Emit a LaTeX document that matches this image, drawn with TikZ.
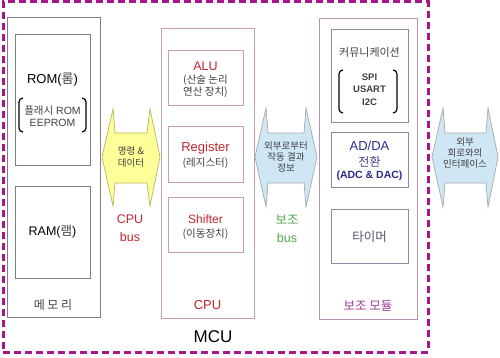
\documentclass[tikz,border=0pt]{standalone}
\usepackage{fontspec}
\setmainfont{Liberation Sans}
\newfontfamily\kr{Noto Sans CJK KR}
\definecolor{mcuc}{HTML}{A5158C}
\definecolor{grayb}{HTML}{808080}
\definecolor{cpub}{HTML}{C8A2A2}
\definecolor{subb}{HTML}{B494B4}
\definecolor{comb}{HTML}{8C8CA6}
\definecolor{redt}{HTML}{C0262E}
\definecolor{txtg}{HTML}{404040}
\definecolor{blt}{HTML}{2B2B8F}
\definecolor{grt}{HTML}{4FA64F}
\definecolor{purt}{HTML}{9B3C9B}
\definecolor{yfill}{HTML}{FFFF99}
\definecolor{ydraw}{HTML}{B5B565}
\definecolor{bfill}{HTML}{CFE7F5}
\definecolor{bdraw}{HTML}{A8A8A8}
\tikzset{
  boxg/.style={draw=grayb, line width=0.8pt, inner sep=0pt},
  boxc/.style={draw=cpub, line width=0.8pt, inner sep=0pt},
  boxs/.style={draw=subb, line width=0.8pt, inner sep=0pt},
  boxm/.style={draw=comb, line width=0.8pt, inner sep=0pt},
  lbl/.style={inner sep=0pt, align=center},
  brk/.style={line width=1.2pt, rounded corners=4pt},
  yarrow/.style={fill=yfill, draw=ydraw, line width=0.7pt, line join=miter},
  barrow/.style={fill=bfill, draw=bdraw, line width=0.7pt, line join=miter},
}
\begin{document}
\begin{tikzpicture}[x=1pt,y=-1pt]
\useasboundingbox (0,0) rectangle (500,358);
% MCU border
\node[draw=mcuc, line width=3pt, dash pattern=on 7pt off 4pt, minimum width=425pt, minimum height=350pt, inner sep=0pt] (mcu) at (215.5,177) {};
\node[lbl, font=\fontsize{17}{17}\selectfont] (mcul) at (213,337) {MCU};

% memory
\node[boxg, minimum width=93pt, minimum height=300pt] (mem) at (53.5,167) {};
\node[boxg, minimum width=75pt, minimum height=131pt] (rom) at (52.5,99.5) {};
\node[boxg, minimum width=75pt, minimum height=92pt] (ram) at (52.5,232) {};
\node[lbl, font=\fontsize{13}{13}\selectfont] (romt) at (52.5,80) {ROM({\kr\color{txtg}롬})};
\node[lbl, font=\fontsize{10.5}{12.5}\selectfont, text=txtg] (romf) at (52.5,116) {{\kr 플래시} ROM\\EEPROM};
\draw[brk] (23,98) -- (19,98) -- (19,132) -- (23,132);
\draw[brk] (82,98) -- (86,98) -- (86,132) -- (82,132);
\node[lbl, font=\fontsize{12.5}{12}\selectfont] (ramt) at (52.5,232) {RAM({\kr\color{txtg}램})};
\node[lbl, font=\kr\fontsize{12}{12}\selectfont, text=txtg] (memt) at (53,305) {메 모 리};

% CPU bus arrow
\path[yarrow] (102,157) -- (113,109) -- (115,133) -- (147,133) -- (150,109) -- (160,157)
  -- (150,206) -- (147,183) -- (115,183) -- (113,206) -- cycle;
\node[lbl, font=\kr\fontsize{9.5}{12}\selectfont, text=txtg] (ybt) at (131,157) {명령 \&\\데이터};
\node[lbl, font=\fontsize{12.5}{18}\selectfont, text=redt] (cbus) at (130,228) {CPU\\bus};

% CPU
\node[boxc, minimum width=93pt, minimum height=290pt] (cpu) at (207.5,173) {};
\node[boxc, minimum width=75pt, minimum height=55pt] (alu) at (205.5,77.5) {};
\node[boxc, minimum width=75pt, minimum height=56pt] (reg) at (205.5,154) {};
\node[boxc, minimum width=75pt, minimum height=55pt] (shf) at (205.5,224.5) {};
\node[lbl, font=\fontsize{12.5}{13}\selectfont, text=redt] (alut) at (205.5,66) {ALU};
\node[lbl, font=\kr\fontsize{10.5}{12.5}\selectfont, text=txtg] (alus) at (205.5,86) {(산술 논리\\연산 장치)};
\node[lbl, font=\fontsize{13}{13}\selectfont, text=redt] (regt) at (205.5,148) {Register};
\node[lbl, font=\kr\fontsize{10.5}{12}\selectfont, text=txtg] (regs) at (205.5,163) {(레지스터)};
\node[lbl, font=\fontsize{12}{13}\selectfont, text=redt] (shft) at (205.5,219) {Shifter};
\node[lbl, font=\kr\fontsize{10.5}{12}\selectfont, text=txtg] (shfs) at (205.5,234) {(이동장치)};
\node[lbl, font=\fontsize{13}{13}\selectfont, text=redt] (cput) at (207.5,305) {CPU};

% sub bus arrow
\path[barrow] (255,157) -- (266,108) -- (268,133) -- (304,133) -- (306,108) -- (317,157)
  -- (306,207) -- (304,183) -- (268,183) -- (266,207) -- cycle;
\node[lbl, font=\kr\fontsize{9.5}{11}\selectfont, text=txtg] (bbt) at (286,157) {외부로부터\\작동 결과\\정보};
\node[lbl, font=\fontsize{12.5}{18}\selectfont, text=grt] (sbus) at (287,229) {{\kr 보조}\\bus};

% sub modules
\node[boxs, minimum width=98pt, minimum height=301pt] (sub) at (368,168.5) {};
\node[boxm, minimum width=77pt, minimum height=93pt] (com) at (369.5,75.5) {};
\node[boxm, minimum width=77pt, minimum height=55pt] (adda) at (369.5,159.5) {};
\node[boxm, minimum width=77pt, minimum height=54pt] (tmr) at (369.5,236) {};
\node[lbl, font=\kr\fontsize{11}{12}\selectfont, text=txtg] (comt) at (369.5,52) {커뮤니케이션};
\node[lbl, font=\bfseries\fontsize{9.5}{12.5}\selectfont, text=txtg] (coms) at (369.5,89.5) {SPI\\USART\\I2C};
\draw[brk] (343,70) -- (339,70) -- (339,113) -- (343,113);
\draw[brk] (393,70) -- (397,70) -- (397,113) -- (393,113);
\node[lbl, font=\fontsize{13}{13}\selectfont, text=blt] (addat) at (369.5,146) {AD/DA};
\node[lbl, font=\kr\fontsize{12}{12}\selectfont, text=blt!70!gray] (conv) at (369.5,161.5) {전환};
\node[lbl, font=\bfseries\fontsize{10.5}{12}\selectfont, text=blt] (adc) at (369.5,175.5) {(ADC \& DAC)};
\node[lbl, font=\kr\fontsize{12.5}{12}\selectfont, text=comb!60!black] (tmrt) at (369.5,237) {타이머};
\node[lbl, font=\kr\fontsize{12.5}{12}\selectfont, text=purt] (subt) at (368,306) {보조 모듈};

% external interface arrow
\path[barrow] (432,157) -- (443,108) -- (445,133) -- (486,133) -- (488,108) -- (498,157)
  -- (488,207) -- (486,183) -- (445,183) -- (443,207) -- cycle;
\node[lbl, font=\kr\fontsize{9.5}{11}\selectfont, text=txtg] (ebt) at (465,153) {외부\\회로와의\\인터페이스};
\end{tikzpicture}
\end{document}
